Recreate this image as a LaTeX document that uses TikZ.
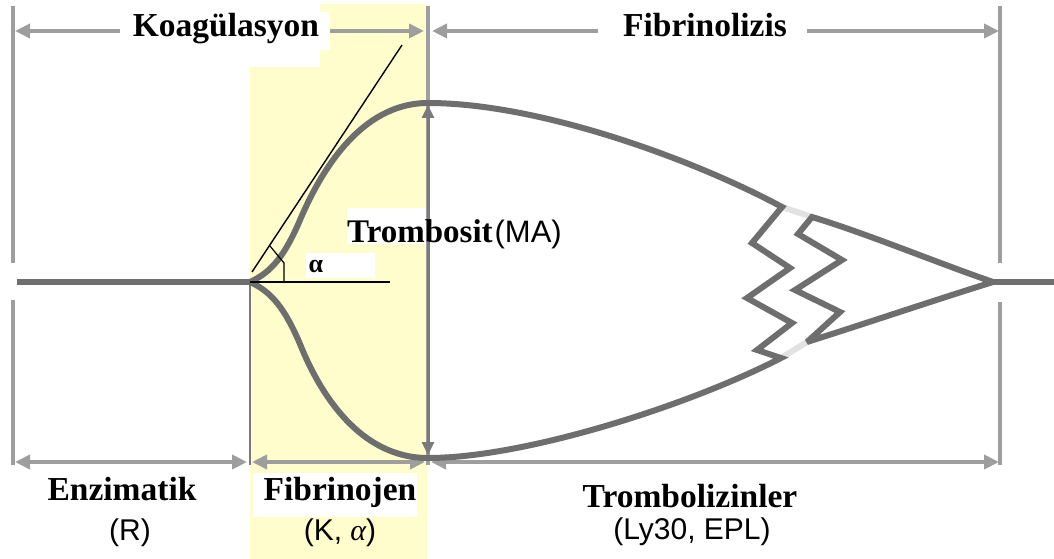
\documentclass[tikz,border=0pt]{standalone}
\usepackage{fontspec}
\setmainfont{Liberation Serif}
\setsansfont{Liberation Sans}
\usetikzlibrary{arrows.meta}
\definecolor{trace}{HTML}{6E6E6E}
\definecolor{dim}{HTML}{9E9E9E}
\definecolor{band}{HTML}{FFFDCC}
\definecolor{ghost}{HTML}{E2E2E2}
\definecolor{mark}{HTML}{7A7A7A}
\begin{document}
\begin{tikzpicture}[x=1pt,y=-1pt,
  dimarrow/.style={draw=dim,line width=4pt,{Triangle[length=15pt,width=14pt]}-{Triangle[length=15pt,width=14pt]}},
  guide/.style={draw=dim,line width=3.5pt},
  maarrow/.style={draw=mark,line width=3pt,{Triangle[length=13pt,width=12pt]}-{Triangle[length=13pt,width=12pt]}},
  curve/.style={draw=trace,line width=6pt,line join=miter,miter limit=4},
  ghostline/.style={draw=ghost,line width=6pt},
  thin/.style={draw=black,line width=1.4pt},
  boldlabel/.style={font=\fontsize{33.5}{36}\selectfont\bfseries,inner sep=0pt},
  sanslabel/.style={font=\fontsize{30}{34}\selectfont\sffamily,inner sep=0pt},
  cover/.style={fill=white}
]
\useasboundingbox (0,0) rectangle (1054,559);
\fill[white] (0,0) rectangle (1054,559);
\fill[band] (250,4) rectangle (427,559);

% dimension coordinates
\coordinate (tA) at (15,31);   \coordinate (tB) at (424,31);
\coordinate (tC) at (432,31);  \coordinate (tD) at (999,31);
\coordinate (bA) at (15,462);  \coordinate (bB) at (247,462);
\coordinate (bC) at (252,462); \coordinate (bD) at (425,462);
\coordinate (bE) at (431,462); \coordinate (bF) at (999,462);

\draw[dimarrow] (tA) -- (tB);
\draw[dimarrow] (tC) -- (tD);
\draw[dimarrow] (bA) -- (bB);
\draw[dimarrow] (bC) -- (bD);
\draw[dimarrow] (bE) -- (bF);

% white covers behind labels
\fill[cover] (120,4) rectangle (320,67);
\fill[cover] (120,12) rectangle (330,50);
\fill[cover] (598,12) rectangle (807,52);
\fill[cover] (347,208) rectangle (426,244);
\fill[cover] (306,253) rectangle (375,278);
\fill[cover] (253,473) rectangle (417,517);

% guide lines
\coordinate (g1a) at (13,6);   \coordinate (g1b) at (13,263);
\coordinate (g1c) at (13,300); \coordinate (g1d) at (13,465);
\coordinate (g2a) at (428,6);  \coordinate (g2b) at (428,465);
\coordinate (g3a) at (1000,6); \coordinate (g3b) at (1000,263);
\coordinate (g3c) at (1000,302); \coordinate (g3d) at (1000,465);
\coordinate (g4a) at (250,282); \coordinate (g4b) at (250,465);
\draw[guide] (g1a) -- (g1b);
\draw[guide] (g1c) -- (g1d);
\draw[guide] (g2a) -- (g2b);
\draw[guide] (g3a) -- (g3b);
\draw[guide] (g3c) -- (g3d);
\draw[draw=mark,line width=2.5pt] (g4a) -- (g4b);

% MA arrow
\coordinate (maT) at (428,105);
\coordinate (maB) at (428,455);
\draw[maarrow] (maT) -- (maB);

% trace
\coordinate (start) at (17,282);
\coordinate (split) at (250,282);
\coordinate (apex) at (993,282);
\coordinate (tail) at (1054,282);
\draw[curve] (start) -- (split);
\draw[curve] (apex) -- (tail);
\draw[ghostline] (782,207) -- (812,217);
\draw[ghostline] (781,358) -- (807,342);
\draw[curve] (split) .. controls (272,272) and (285,255) .. (300,220)
  .. controls (320,173) and (360,103) .. (428,103)
  .. controls (540,103) and (695,160) .. (782,207)
  -- (752,243) -- (790,268) -- (747,298) -- (792,323) -- (757,350) -- (781,358)
  .. controls (690,405) and (525,458) .. (428,458)
  .. controls (360,458) and (320,394) .. (300,344)
  .. controls (285,309) and (272,292) .. (split);
\draw[curve] (apex) .. controls (935,262) and (868,234) .. (812,217)
  -- (798,234) -- (842,260) -- (795,290) -- (840,312) -- (807,342)
  .. controls (870,322) and (935,300) .. (apex);

% tangent and angle
\coordinate (tan0) at (252,272);
\coordinate (tan1) at (402,45);
\coordinate (hor1) at (390,282);
\draw[thin] (tan0) -- (tan1);
\draw[thin] (split) -- (hor1);
\draw[draw=black,line width=1.2pt] (284,282) -- (284,263) -- (270,246);

% labels
\node[boldlabel,anchor=base] (koag) at (226,37) {Koagülasyon};
\node[boldlabel,anchor=base] (fibl) at (705,37) {Fibrinolizis};
\node[inner sep=0pt,anchor=base west] (tromb) at (347,242)
  {\fontsize{33}{36}\selectfont\bfseries Trombosit\hspace{2pt}\fontsize{31}{34}\selectfont\mdseries\sffamily(MA)};
\node[inner sep=0pt,font=\fontsize{26}{28}\selectfont\bfseries] (alpha) at (316,266) {α};
\node[boldlabel,anchor=base] (enz) at (122,500) {Enzimatik};
\node[sanslabel] (R) at (130,533) {(R)};
\node[boldlabel,anchor=base] (fibj) at (340,500) {Fibrinojen};
\node[sanslabel] (K) at (340,533) {(K, {\rmfamily\itshape α})};
\node[boldlabel,anchor=base] (tbl) at (690,507) {Trombolizinler};
\node[sanslabel] (ly) at (692,532) {(Ly30, EPL)};
\end{tikzpicture}
\end{document}
